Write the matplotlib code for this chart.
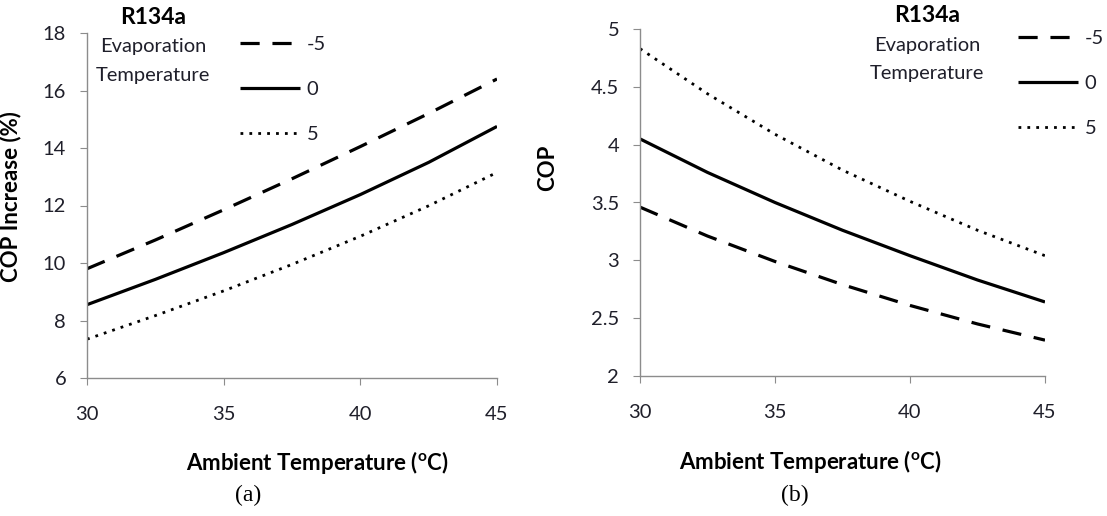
import numpy as np
import matplotlib
matplotlib.use("Agg")
from matplotlib import pyplot as plt

plt.rcParams['font.family'] = ['Lato', 'DejaVu Sans']
plt.rcParams['mathtext.fontset'] = 'custom'
plt.rcParams['mathtext.rm'] = 'Lato'
plt.rcParams['mathtext.bf'] = 'Lato:bold'

# ambient temperature (C)
T_AMB = [30, 32.5, 35, 37.5, 40, 42.5, 45]

# (a) COP increase (%) for evaporation temperatures -5, 0, 5
INC_M5 = [9.8, 10.8, 11.85, 12.93, 14.05, 15.2, 16.4]
INC_0 = [8.55, 9.43, 10.36, 11.34, 12.38, 13.5, 14.75]
INC_5 = [7.35, 8.17, 9.03, 9.95, 10.93, 11.99, 13.15]

# (b) COP for evaporation temperatures -5, 0, 5
COP_M5 = [3.46, 3.21, 2.99, 2.79, 2.61, 2.45, 2.31]
COP_0 = [4.05, 3.76, 3.50, 3.26, 3.04, 2.83, 2.64]
COP_5 = [4.83, 4.44, 4.09, 3.78, 3.51, 3.26, 3.04]

EVAP = ['-5', '0', '5']
STYLES = [(0, (6, 4)), '-', (0, (1, 2.2))]
WIDTHS = [2.3, 2.3, 2.0]

W, H = 1107, 516
TXT = '#1f1f2a'
GRAY = '#8c8c8c'


def style_axes(ax, ylim, yticks):
    ax.set_xlim(30, 45)
    ax.set_xticks([30, 35, 40, 45])
    ax.set_ylim(*ylim)
    ax.set_yticks(yticks)
    for s in ['top', 'right']:
        ax.spines[s].set_visible(False)
    for s in ['left', 'bottom']:
        ax.spines[s].set_color(GRAY)
        ax.spines[s].set_linewidth(1.0)
    ax.tick_params(axis='both', direction='out', color=GRAY, length=5,
                   labelsize=14.5, labelcolor=TXT)
    ax.tick_params(axis='x', pad=15)
    ax.tick_params(axis='y', pad=10)
    ax.set_xlabel(r'Ambient Temperature ($^{\mathbf{o}}$C)', fontsize=16,
                  fontweight='bold', color='black')


def draw(ax, series):
    lines = []
    for y, ls, lw, lab in zip(series, STYLES, WIDTHS, EVAP):
        ln, = ax.plot(T_AMB, y, color='black', linestyle=ls, linewidth=lw,
                      label=lab, solid_capstyle='butt')
        lines.append(ln)
    return lines


fig = plt.figure(figsize=(W / 100, H / 100), dpi=100)

ax1 = fig.add_axes([87 / W, 1 - 378 / H, 410 / W, 345 / H])
ax2 = fig.add_axes([640 / W, 1 - 376 / H, 405 / W, 347 / H])

h1 = draw(ax1, [INC_M5, INC_0, INC_5])
h2 = draw(ax2, [COP_M5, COP_0, COP_5])

style_axes(ax1, (6, 18), np.arange(6, 19, 2))
style_axes(ax2, (2, 5), np.arange(2, 5.01, 0.5))
ax2.set_yticklabels(['2', '2.5', '3', '3.5', '4', '4.5', '5'])

ax1.set_ylabel('COP Increase (%)', fontsize=16, fontweight='bold')
ax2.set_ylabel('COP', fontsize=16, fontweight='bold')
ax1.yaxis.set_label_coords(-0.159, 0.525)
ax2.yaxis.set_label_coords(-0.202, 0.60)
ax1.xaxis.set_label_coords(0.563, -0.205)
ax2.xaxis.set_label_coords(0.42, -0.208)

for ax, hs, x0, y0 in [(ax1, h1, 240, 36), (ax2, h2, 1018, 30)]:
    ax.legend(handles=hs, loc='upper left', frameon=False, fontsize=14.5,
              bbox_to_anchor=(x0 / W, 1 - y0 / H),
              bbox_transform=fig.transFigure, borderpad=0, borderaxespad=0,
              handlelength=3.0, handletextpad=0.3, labelspacing=1.38,
              labelcolor=TXT)

# panel headers
for cx, ty, ey in [(153, 17, 47), (927, 16, 45)]:
    fig.text(cx / W, 1 - ty / H, 'R134a', ha='center', va='center',
             fontsize=16.5, fontweight='bold')
    fig.text(cx / W, 1 - ey / H, 'Evaporation', ha='center', va='center',
             fontsize=14.5, color=TXT)
    fig.text(cx / W, 1 - (ey + 28) / H, 'Temperature', ha='center',
             va='center', fontsize=14.5, color=TXT)

fig.text(248 / W, 1 - 495 / H, '(a)', ha='center', va='center',
         fontsize=17, family='Liberation Serif')
fig.text(795 / W, 1 - 495 / H, '(b)', ha='center', va='center',
         fontsize=17, family='Liberation Serif')

plt.savefig('out.png', dpi=100)
